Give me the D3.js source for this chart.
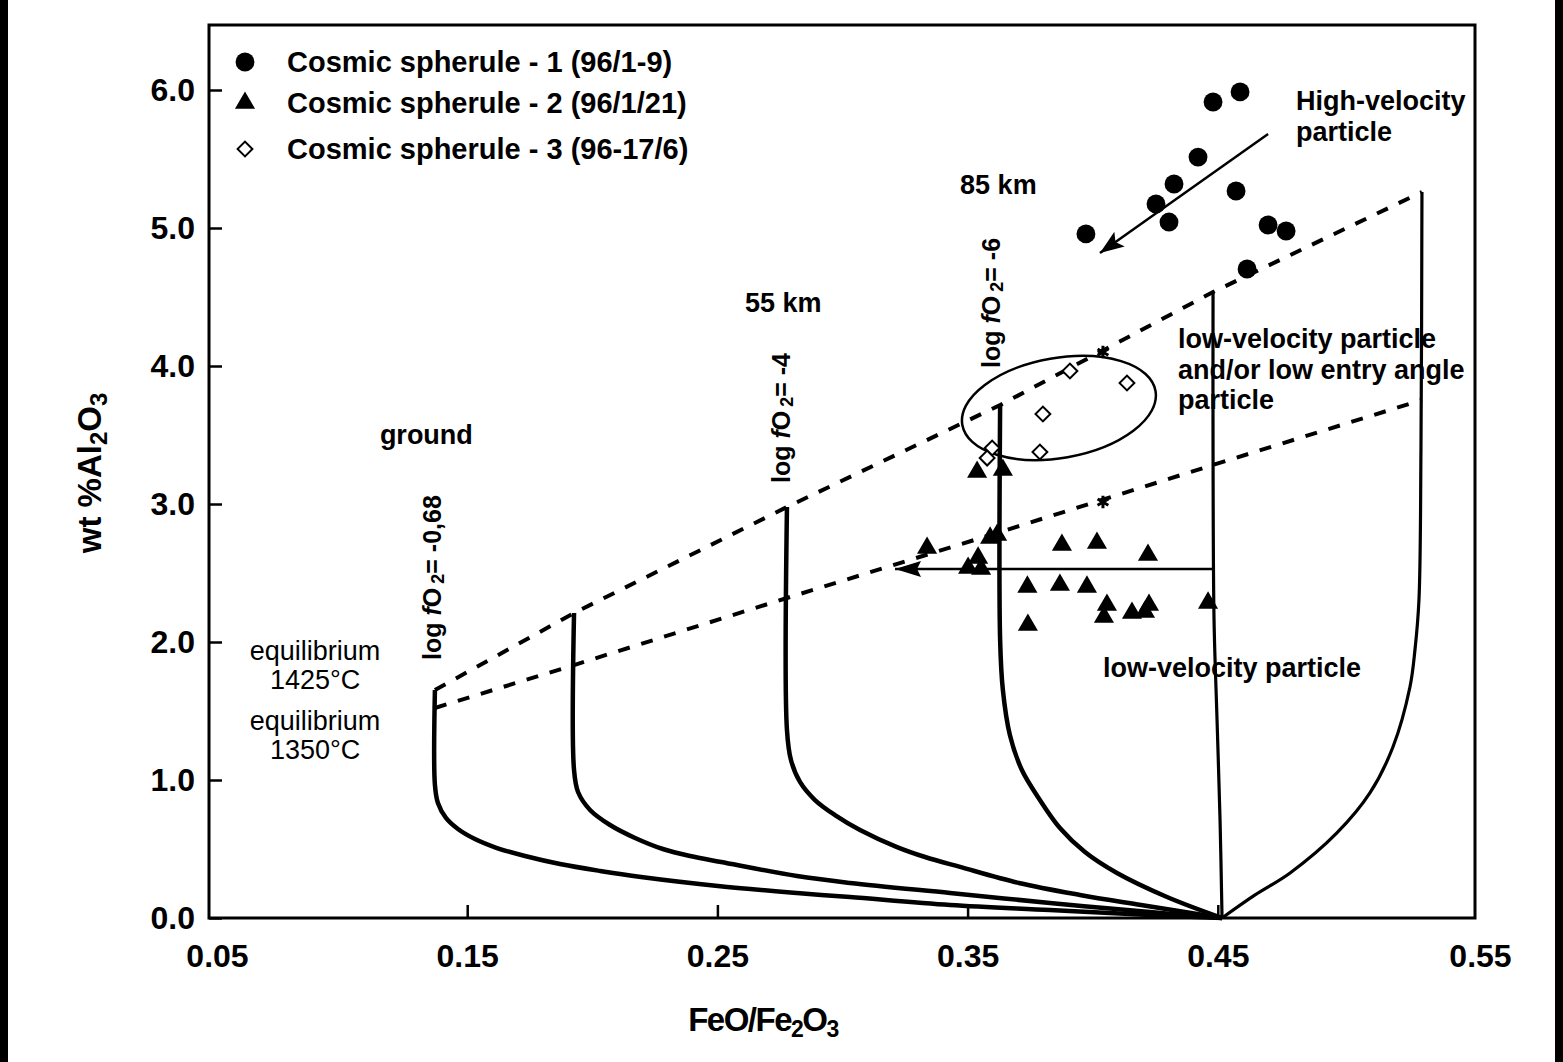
<!DOCTYPE html>
<html>
<head>
<meta charset="utf-8">
<script src="https://cdn.jsdelivr.net/npm/d3@7/dist/d3.min.js"></script>
<style>
  body { margin: 0; background: #000; }
  #chart { position: absolute; left: 8px; top: 0; width: 1547px; height: 1062px; background: #fff; overflow: hidden; }
  svg { position: absolute; left: -8px; top: 0; }
  text { font-family: 'Liberation Sans', Arial, sans-serif; fill: #000; }
</style>
</head>
<body>
<div id="chart"></div>
<script>
// axis ranges and ticks
const xDomain = [0.0468, 0.5528];
const yDomain = [0, 6.471];
const xTicks = [0.05, 0.15, 0.25, 0.35, 0.45, 0.55];
const yTicks = [0, 1, 2, 3, 4, 5, 6];

// measured spherules  [FeO/Fe2O3, wt% Al2O3]
const spherule1 = [
  [0.4589, 5.986], [0.4481, 5.913], [0.4421, 5.514], [0.4325, 5.319],
  [0.4253, 5.174], [0.4305, 5.043], [0.4573, 5.268], [0.4701, 5.022],
  [0.4773, 4.978], [0.3973, 4.957], [0.4617, 4.703]
];
const spherule2 = [
  [0.3338, 2.681], [0.3502, 2.536], [0.3542, 2.609], [0.3554, 2.529],
  [0.3590, 2.754], [0.3618, 2.775], [0.3538, 3.232], [0.3641, 3.246],
  [0.3877, 2.703], [0.4017, 2.717], [0.4221, 2.630], [0.3739, 2.399],
  [0.3869, 2.413], [0.3977, 2.399], [0.4057, 2.268], [0.4045, 2.181],
  [0.4157, 2.210], [0.4209, 2.217], [0.4225, 2.268], [0.4461, 2.283],
  [0.3741, 2.123]
];
const spherule3 = [
  [0.3909, 3.964], [0.4137, 3.877], [0.3801, 3.652],
  [0.3789, 3.377], [0.3598, 3.406], [0.3578, 3.333]
];

// model paths for each logfO2 / altitude
const pathGround = [
  [0.1371, 1.652], [0.1371, 0.964], [0.1383, 0.833], [0.1415, 0.725],
  [0.1463, 0.645], [0.1531, 0.572], [0.1619, 0.507], [0.1731, 0.449],
  [0.1871, 0.391], [0.2031, 0.341], [0.2195, 0.297], [0.2502, 0.232],
  [0.2818, 0.181], [0.3030, 0.152], [0.3430, 0.094], [0.3829, 0.058],
  [0.4229, 0.022], [0.4517, 0]
];
const path2 = [
  [0.1927, 2.210], [0.1927, 1.072], [0.1943, 0.913], [0.1991, 0.783],
  [0.2071, 0.674], [0.2171, 0.580], [0.2282, 0.500], [0.2391, 0.449],
  [0.2515, 0.406], [0.2818, 0.304], [0.3030, 0.254], [0.3430, 0.181],
  [0.3829, 0.109], [0.4229, 0.043], [0.4517, 0]
];
const path55 = [
  [0.2778, 2.978], [0.2778, 1.362], [0.2794, 1.145], [0.2830, 0.986],
  [0.2890, 0.855], [0.2970, 0.746], [0.3070, 0.638], [0.3218, 0.514],
  [0.3330, 0.442], [0.3470, 0.370], [0.3705, 0.254], [0.3949, 0.167],
  [0.4193, 0.094], [0.4517, 0]
];
const path6 = [
  [0.3630, 3.717], [0.3630, 2.014], [0.3641, 1.652], [0.3669, 1.326],
  [0.3717, 1.072], [0.3789, 0.855], [0.3869, 0.652], [0.3969, 0.478],
  [0.4097, 0.326], [0.4297, 0.152], [0.4517, 0]
];
const path85 = [
  [0.4481, 4.536], [0.4481, 3.391], [0.4485, 2.159], [0.4497, 1.435],
  [0.4509, 0.710], [0.4517, 0]
];
const pathHigh = [
  [0.5316, 5.261], [0.5312, 3.391], [0.5304, 2.304], [0.5288, 1.942],
  [0.5268, 1.674], [0.5200, 1.239], [0.5108, 0.906], [0.4976, 0.616],
  [0.4789, 0.326], [0.4649, 0.167], [0.4517, 0]
];
const solidPaths = [pathGround, path2, path55, path6, path85, pathHigh];

// equilibrium lines (dashed)
const eq1425 = [[0.1371, 1.652], [0.1927, 2.210], [0.2778, 2.978], [0.3630, 3.717], [0.4481, 4.536], [0.5316, 5.261]];
const eq1350 = [[0.1371, 1.522], [0.1927, 1.833], [0.2778, 2.319], [0.3630, 2.797], [0.4481, 3.283], [0.5316, 3.754]];
const stars = [[0.4041, 4.101], [0.4041, 3.014]];

const arrowHigh = [[0.4701, 5.681], [0.4029, 4.819]];
const arrowLow = [[0.4481, 2.529], [0.3210, 2.529]];
const group3 = { cx: 0.3865, cy: 3.696, rx: 0.0392, ry: 0.362, angle: -10 };

const notes = [
  { x: 0.1151, y: 3.435, lines: ['ground'], bold: true },
  { x: 0.2610, y: 4.391, lines: ['55 km'], bold: true },
  { x: 0.3470, y: 5.246, lines: ['85 km'], bold: true },
  { x: 0.4813, y: 5.855, lines: ['High-velocity', 'particle'], bold: true },
  { x: 0.4341, y: 4.130, lines: ['low-velocity particle', 'and/or low entry angle', 'particle'], bold: true },
  { x: 0.4041, y: 1.746, lines: ['low-velocity particle'], bold: true },
  { x: 0.0892, y: 1.870, lines: ['equilibrium', '1425°C'], bold: false, mid: true },
  { x: 0.0892, y: 1.362, lines: ['equilibrium', '1350°C'], bold: false, mid: true }
];
const fo2Labels = [
  { x: 0.1395, y: 1.870, value: '-0,68' },
  { x: 0.2790, y: 3.152, value: '-4' },
  { x: 0.3630, y: 3.986, value: '-6' }
];
const legendItems = [
  { name: 'Cosmic spherule - 1 (96/1-9)', shape: 'circle' },
  { name: 'Cosmic spherule - 2 (96/1/21)', shape: 'triangle' },
  { name: 'Cosmic spherule - 3 (96-17/6)', shape: 'diamond' }
];

const W = 1563, H = 1062;
const margin = { top: 25, right: 88, bottom: 144, left: 209 };
const width = W - margin.left - margin.right;
const height = H - margin.top - margin.bottom;

const svg = d3.select('#chart').append('svg').attr('width', W).attr('height', H);
const g = svg.append('g').attr('transform', `translate(${margin.left},${margin.top})`);

const x = d3.scaleLinear().domain(xDomain).range([0, width]);
const y = d3.scaleLinear().domain(yDomain).range([height, 0]);

// markers
const defs = svg.append('defs');
defs.append('marker').attr('id', 'headA')
  .attr('markerUnits', 'userSpaceOnUse').attr('viewBox', '0 0 24 18')
  .attr('refX', 24).attr('refY', 9).attr('markerWidth', 24).attr('markerHeight', 18)
  .attr('orient', 'auto')
  .append('path').attr('d', 'M0,0L24,9L0,18L5,9Z').attr('fill', '#000');
defs.append('marker').attr('id', 'headB')
  .attr('markerUnits', 'userSpaceOnUse').attr('viewBox', '0 0 26 16')
  .attr('refX', 26).attr('refY', 8).attr('markerWidth', 26).attr('markerHeight', 16)
  .attr('orient', 'auto')
  .append('path').attr('d', 'M0,0L26,8L0,16L4,8Z').attr('fill', '#000');

// axes
const xAxis = d3.axisBottom(x).tickValues(xTicks).tickFormat(d3.format('.2f'))
  .tickSizeInner(-13).tickSizeOuter(0).tickPadding(26);
const yAxis = d3.axisLeft(y).tickValues(yTicks).tickFormat(d3.format('.1f'))
  .tickSizeInner(-13).tickSizeOuter(0).tickPadding(14);

const gx = g.append('g').attr('transform', `translate(0,${height})`).call(xAxis);
const gy = g.append('g').call(yAxis);
[gx, gy].forEach(a => {
  a.select('.domain').remove();
  a.selectAll('.tick line').attr('stroke', '#000').attr('stroke-width', 2.5);
  a.selectAll('.tick text').style('font-size', '32px').style('font-weight', 'bold')
    .style('font-family', "'Liberation Sans', Arial, sans-serif").attr('fill', '#000');
});
gx.selectAll('.tick').filter(d => d === 0.05 || d === 0.55).select('line').remove();
gx.selectAll('.tick').filter(d => d === 0.55).select('text').attr('dx', 12);

// frame
g.append('rect').attr('width', width).attr('height', height)
  .attr('fill', 'none').attr('stroke', '#000').attr('stroke-width', 3);

// axis titles
const xt = svg.append('text').attr('x', 763).attr('y', 1031).attr('text-anchor', 'middle')
  .style('font-size', '33px').style('font-weight', 'bold').style('letter-spacing', '-1.5px');
xt.append('tspan').text('FeO/Fe');
xt.append('tspan').text('2').style('font-size', '23px').attr('dy', 6);
xt.append('tspan').text('O').attr('dy', -6);
xt.append('tspan').text('3').style('font-size', '23px').attr('dy', 6);

const yt = svg.append('text').attr('transform', 'translate(101,473) rotate(-90)').attr('text-anchor', 'middle')
  .style('font-size', '33px').style('font-weight', 'bold');
yt.append('tspan').text('wt %Al');
yt.append('tspan').text('2').style('font-size', '24px').attr('dy', 6);
yt.append('tspan').text('O').attr('dy', -6);
yt.append('tspan').text('3').style('font-size', '24px').attr('dy', 6);

// model paths
const line = d3.line().x(d => x(d[0])).y(d => y(d[1]));
const smooth = d3.line().x(d => x(d[0])).y(d => y(d[1])).curve(d3.curveCatmullRom.alpha(0.5));

g.selectAll('path.model').data(solidPaths).join('path').attr('class', 'model')
  .attr('d', smooth).attr('fill', 'none').attr('stroke', '#000')
  .attr('stroke-width', (d, i) => (i >= 4 ? 3.2 : 4.5)).attr('stroke-linejoin', 'round');

g.selectAll('path.eq').data([eq1425, eq1350]).join('path').attr('class', 'eq')
  .attr('d', line).attr('fill', 'none').attr('stroke', '#000')
  .attr('stroke-width', 4).attr('stroke-dasharray', '12,12');

g.selectAll('path.star').data(stars).join('path').attr('class', 'star')
  .attr('transform', d => `translate(${x(d[0])},${y(d[1])})`)
  .attr('d', d3.symbol(d3.symbolAsterisk, 110)).attr('stroke', '#000').attr('stroke-width', 3);

// group 3 ellipse
const ex = x(group3.cx), ey = y(group3.cy);
g.append('ellipse').attr('cx', 0).attr('cy', 0)
  .attr('rx', x(group3.cx + group3.rx) - ex).attr('ry', ey - y(group3.cy + group3.ry))
  .attr('transform', `translate(${ex},${ey}) rotate(${group3.angle})`)
  .attr('fill', 'none').attr('stroke', '#000').attr('stroke-width', 2.5);

// arrows
g.append('path').datum(arrowHigh).attr('d', line).attr('stroke', '#000')
  .attr('stroke-width', 2.5).attr('fill', 'none').attr('marker-end', 'url(#headA)');
g.append('path').datum(arrowLow).attr('d', line).attr('stroke', '#000')
  .attr('stroke-width', 2.5).attr('fill', 'none').attr('marker-end', 'url(#headB)');

// points
const symCircle = d3.symbol(d3.symbolCircle, 280);
const symTri = d3.symbol(d3.symbolTriangle, 175);
const symDia = d3.symbol(d3.symbolSquare, 110);

g.selectAll('path.s1').data(spherule1).join('path').attr('class', 's1')
  .attr('transform', d => `translate(${x(d[0])},${y(d[1])})`).attr('d', symCircle).attr('fill', '#000');
g.selectAll('path.s2').data(spherule2).join('path').attr('class', 's2')
  .attr('transform', d => `translate(${x(d[0])},${y(d[1])})`).attr('d', symTri).attr('fill', '#000');
g.selectAll('path.s3').data(spherule3).join('path').attr('class', 's3')
  .attr('transform', d => `translate(${x(d[0])},${y(d[1])}) rotate(45)`).attr('d', symDia)
  .attr('fill', '#fff').attr('stroke', '#000').attr('stroke-width', 2);

// annotations
notes.forEach(n => {
  const t = g.append('text').attr('x', x(n.x)).attr('y', y(n.y))
    .attr('text-anchor', n.mid ? 'middle' : 'start')
    .style('font-size', '27px').style('font-weight', n.bold ? 'bold' : 'normal');
  n.lines.forEach((s, i) => {
    t.append('tspan').attr('x', x(n.x)).attr('dy', i === 0 ? 0 : (n.mid ? 29 : 30.5)).text(s);
  });
});

fo2Labels.forEach(f => {
  const t = g.append('text').attr('transform', `translate(${x(f.x)},${y(f.y)}) rotate(-90)`)
    .style('font-size', '25px').style('font-weight', 'bold');
  t.append('tspan').text('log ');
  t.append('tspan').text('f').style('font-style', 'italic');
  t.append('tspan').text('O');
  t.append('tspan').text('2').style('font-size', '18px').attr('dx', 4).attr('dy', 3);
  t.append('tspan').text('= ' + f.value).attr('dy', -3);
});

// legend
const lg = svg.append('g').attr('transform', 'translate(245,62)');
legendItems.forEach((item, i) => {
  const row = lg.append('g').attr('transform', `translate(0,${[0, 41, 87][i]})`);
  if (item.shape === 'circle') row.append('path').attr('d', symCircle).attr('fill', '#000');
  if (item.shape === 'triangle') row.append('path').attr('d', symTri).attr('fill', '#000');
  if (item.shape === 'diamond') row.append('path').attr('d', symDia).attr('transform', 'rotate(45)')
    .attr('fill', '#fff').attr('stroke', '#000').attr('stroke-width', 2);
  row.append('text').attr('x', 42).attr('y', 10).style('font-size', '29px')
    .style('font-weight', 'bold').text(item.name);
});
</script>
</body>
</html>
